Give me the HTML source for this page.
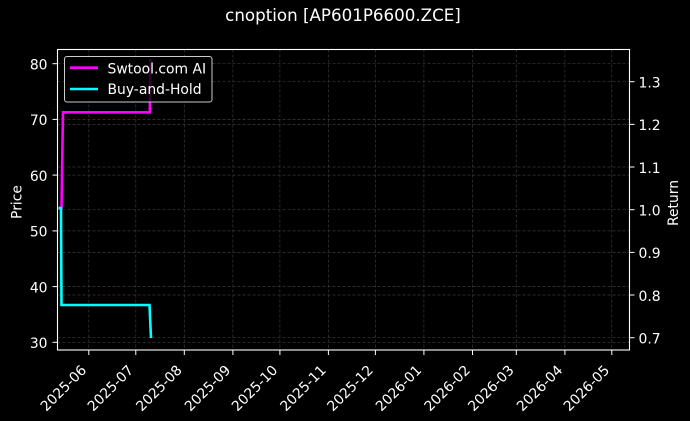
<!DOCTYPE html>
<html><head><meta charset="utf-8"><style>
html,body{margin:0;padding:0;background:#000;}
svg{display:block;}
text{font-family:"DejaVu Sans","Liberation Sans",sans-serif;fill:#fff;}
</style></head><body>
<svg width="690" height="421" viewBox="0 0 690 421" xmlns="http://www.w3.org/2000/svg">
<rect width="690" height="421" fill="#000"/>
<text x="343" y="21" font-size="16.7" text-anchor="middle">cnoption [AP601P6600.ZCE]</text>
<g stroke="#3a3a3a" stroke-width="0.7" stroke-dasharray="3,2" fill="none">
<line x1="88.8" y1="49.5" x2="88.8" y2="350"/>
<line x1="135.8" y1="49.5" x2="135.8" y2="350"/>
<line x1="184.3" y1="49.5" x2="184.3" y2="350"/>
<line x1="232.9" y1="49.5" x2="232.9" y2="350"/>
<line x1="279.9" y1="49.5" x2="279.9" y2="350"/>
<line x1="328.4" y1="49.5" x2="328.4" y2="350"/>
<line x1="375.4" y1="49.5" x2="375.4" y2="350"/>
<line x1="423.9" y1="49.5" x2="423.9" y2="350"/>
<line x1="472.5" y1="49.5" x2="472.5" y2="350"/>
<line x1="516.3" y1="49.5" x2="516.3" y2="350"/>
<line x1="564.9" y1="49.5" x2="564.9" y2="350"/>
<line x1="611.8" y1="49.5" x2="611.8" y2="350"/>
<line x1="57.5" y1="63.7" x2="629.5" y2="63.7"/>
<line x1="57.5" y1="119.4" x2="629.5" y2="119.4"/>
<line x1="57.5" y1="175.1" x2="629.5" y2="175.1"/>
<line x1="57.5" y1="230.9" x2="629.5" y2="230.9"/>
<line x1="57.5" y1="286.6" x2="629.5" y2="286.6"/>
<line x1="57.5" y1="342.3" x2="629.5" y2="342.3"/>
<line x1="57.5" y1="81.7" x2="629.5" y2="81.7"/>
<line x1="57.5" y1="124.4" x2="629.5" y2="124.4"/>
<line x1="57.5" y1="167" x2="629.5" y2="167"/>
<line x1="57.5" y1="209.7" x2="629.5" y2="209.7"/>
<line x1="57.5" y1="252.4" x2="629.5" y2="252.4"/>
<line x1="57.5" y1="295" x2="629.5" y2="295"/>
<line x1="57.5" y1="337.7" x2="629.5" y2="337.7"/>
</g>
<path d="M58.5,208 L61.5,208 L63,112.3 L149.8,112.3 L150.5,59" stroke="#ff00ff" stroke-width="2.6" fill="none" stroke-linejoin="miter"/>
<path d="M58.5,208 L61,208 L61.5,305 L149.5,305 L151,338" stroke="#00ffff" stroke-width="2.6" fill="none"/>
<rect x="57.5" y="49.5" width="572" height="300.5" fill="none" stroke="#fff" stroke-width="1.1"/>
<g stroke="#fff" stroke-width="1">
<line x1="88.8" y1="350" x2="88.8" y2="355"/>
<line x1="135.8" y1="350" x2="135.8" y2="355"/>
<line x1="184.3" y1="350" x2="184.3" y2="355"/>
<line x1="232.9" y1="350" x2="232.9" y2="355"/>
<line x1="279.9" y1="350" x2="279.9" y2="355"/>
<line x1="328.4" y1="350" x2="328.4" y2="355"/>
<line x1="375.4" y1="350" x2="375.4" y2="355"/>
<line x1="423.9" y1="350" x2="423.9" y2="355"/>
<line x1="472.5" y1="350" x2="472.5" y2="355"/>
<line x1="516.3" y1="350" x2="516.3" y2="355"/>
<line x1="564.9" y1="350" x2="564.9" y2="355"/>
<line x1="611.8" y1="350" x2="611.8" y2="355"/>
<line x1="52.5" y1="63.7" x2="57.5" y2="63.7"/>
<line x1="52.5" y1="119.4" x2="57.5" y2="119.4"/>
<line x1="52.5" y1="175.1" x2="57.5" y2="175.1"/>
<line x1="52.5" y1="230.9" x2="57.5" y2="230.9"/>
<line x1="52.5" y1="286.6" x2="57.5" y2="286.6"/>
<line x1="52.5" y1="342.3" x2="57.5" y2="342.3"/>
<line x1="629.5" y1="81.7" x2="634.5" y2="81.7"/>
<line x1="629.5" y1="124.4" x2="634.5" y2="124.4"/>
<line x1="629.5" y1="167" x2="634.5" y2="167"/>
<line x1="629.5" y1="209.7" x2="634.5" y2="209.7"/>
<line x1="629.5" y1="252.4" x2="634.5" y2="252.4"/>
<line x1="629.5" y1="295" x2="634.5" y2="295"/>
<line x1="629.5" y1="337.7" x2="634.5" y2="337.7"/>
</g>
<g font-size="13.9" text-anchor="end">
<text x="47.5" y="69.5">80</text>
<text x="47.5" y="125.2">70</text>
<text x="47.5" y="180.9">60</text>
<text x="47.5" y="236.7">50</text>
<text x="47.5" y="292.4">40</text>
<text x="47.5" y="348.1">30</text>
</g>
<g font-size="13.9" text-anchor="start">
<text x="638.5" y="87.5">1.3</text>
<text x="638.5" y="130.2">1.2</text>
<text x="638.5" y="172.8">1.1</text>
<text x="638.5" y="215.5">1.0</text>
<text x="638.5" y="258.2">0.9</text>
<text x="638.5" y="300.8">0.8</text>
<text x="638.5" y="343.5">0.7</text>
</g>
<g font-size="13.9" text-anchor="end">
<text transform="translate(87.3,371) rotate(-45)">2025-06</text>
<text transform="translate(134.3,371) rotate(-45)">2025-07</text>
<text transform="translate(182.8,371) rotate(-45)">2025-08</text>
<text transform="translate(231.4,371) rotate(-45)">2025-09</text>
<text transform="translate(278.4,371) rotate(-45)">2025-10</text>
<text transform="translate(326.9,371) rotate(-45)">2025-11</text>
<text transform="translate(373.9,371) rotate(-45)">2025-12</text>
<text transform="translate(422.4,371) rotate(-45)">2026-01</text>
<text transform="translate(471,371) rotate(-45)">2026-02</text>
<text transform="translate(514.8,371) rotate(-45)">2026-03</text>
<text transform="translate(563.4,371) rotate(-45)">2026-04</text>
<text transform="translate(610.3,371) rotate(-45)">2026-05</text>
</g>
<text font-size="13.9" text-anchor="middle" transform="translate(21.5,202) rotate(-90)">Price</text>
<text font-size="13.9" text-anchor="middle" transform="translate(678,203) rotate(-90)">Return</text>
<rect x="64.5" y="56.5" width="147.5" height="45.5" rx="2.5" ry="2.5" fill="#000" fill-opacity="0.8" stroke="#ccc" stroke-width="1"/>
<line x1="70" y1="67.7" x2="98" y2="67.7" stroke="#ff00ff" stroke-width="2.6"/>
<line x1="70" y1="89" x2="98" y2="89" stroke="#00ffff" stroke-width="2.6"/>
<text x="107.5" y="73.3" font-size="13.9">Swtool.com AI</text>
<text x="107.5" y="94.2" font-size="13.9">Buy-and-Hold</text>
</svg>
</body></html>
